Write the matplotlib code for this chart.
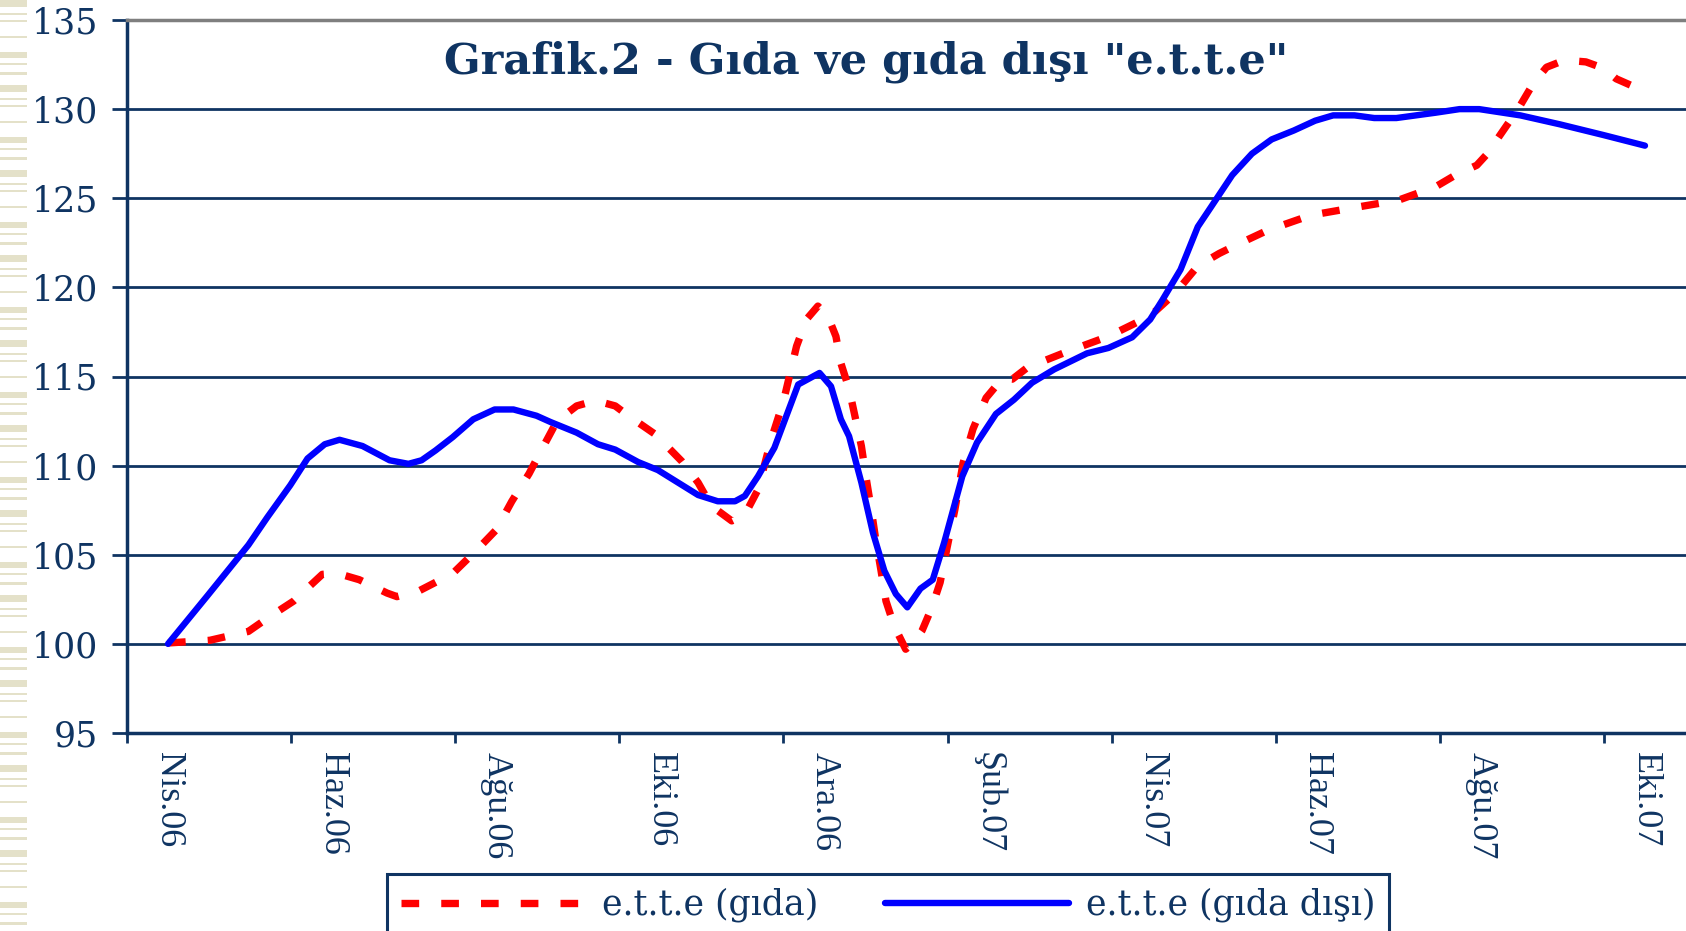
import matplotlib.pyplot as plt
from matplotlib.patches import Rectangle

# months counted from Nis.06 (= 0)
gida_x = [0.00, 0.51, 0.98, 1.23, 1.53, 1.88, 2.07, 2.33, 2.67, 2.79, 3.07, 3.47,
          3.77, 4.00, 4.19, 4.40, 4.56, 4.74, 4.98, 5.21, 5.45, 5.61, 5.94, 6.26,
          6.46, 6.62, 6.87, 7.03, 7.19, 7.35, 7.50, 7.66, 7.78, 7.92, 8.04, 8.14,
          8.20, 8.30, 8.38, 8.45, 8.51, 8.57, 8.63, 8.69, 8.75, 8.85, 8.99, 9.09,
          9.19, 9.31, 9.41, 9.49, 9.59, 9.69, 9.81, 9.97, 10.17, 10.29, 10.50, 10.66,
          10.96, 11.46, 11.97, 12.28, 12.55, 12.81, 13.03, 13.40, 13.93, 14.49, 15.00, 15.45,
          15.69, 15.95, 16.08, 16.22, 16.46, 16.64, 16.80, 17.02, 17.28, 17.49, 17.65, 17.97]
gida_y = [100.05, 100.2, 100.7, 101.5, 102.4, 103.9, 103.95, 103.6, 102.85, 102.65, 103.0, 103.95,
          105.3, 106.4, 108.0, 109.55, 110.95, 112.5, 113.35, 113.65, 113.35, 112.8, 111.75, 110.25,
          109.05, 107.75, 106.9, 107.25, 108.65, 111.45, 113.6, 116.7, 118.2, 118.95, 118.4, 117.25,
          115.75, 114.3, 112.6, 111.1, 109.25, 107.55, 105.7, 104.1, 102.4, 101.0, 99.7, 100.1,
          100.75, 102.05, 103.45, 105.3, 107.55, 110.15, 112.05, 113.8, 114.9, 114.85, 115.6, 115.85,
          116.4, 117.25, 118.4, 119.7, 121.2, 121.9, 122.4, 123.2, 124.05, 124.5, 124.9, 125.65,
          126.3, 126.85, 127.5, 128.45, 130.05, 131.45, 132.35, 132.75, 132.65, 132.3, 131.7, 131.05]

disi_x = [0.00, 0.48, 0.98, 1.21, 1.49, 1.70, 1.91, 2.09, 2.37, 2.70, 2.93, 3.09,
          3.26, 3.47, 3.72, 3.98, 4.21, 4.49, 4.66, 4.98, 5.24, 5.45, 5.73, 5.97,
          6.46, 6.70, 6.91, 7.03, 7.19, 7.39, 7.68, 7.94, 8.08, 8.20, 8.30, 8.45,
          8.59, 8.73, 8.87, 9.01, 9.17, 9.32, 9.46, 9.68, 9.86, 10.09, 10.31, 10.53,
          10.80, 11.20, 11.46, 11.75, 11.97, 12.12, 12.34, 12.55, 12.71, 12.97, 13.21, 13.45,
          13.72, 13.98, 14.20, 14.46, 14.70, 14.97, 15.21, 15.45, 15.74, 15.98, 16.48, 16.96,
          17.49, 18.00]
disi_y = [100.0, 102.7, 105.55, 107.1, 108.9, 110.4, 111.2, 111.45, 111.1, 110.3, 110.1, 110.3,
          110.85, 111.6, 112.6, 113.15, 113.15, 112.8, 112.45, 111.85, 111.2, 110.9, 110.2, 109.75,
          108.35, 108.0, 108.0, 108.3, 109.4, 111.0, 114.55, 115.2, 114.45, 112.6, 111.65, 109.05,
          106.25, 104.1, 102.8, 102.05, 103.1, 103.6, 105.7, 109.4, 111.3, 112.9, 113.7, 114.65,
          115.4, 116.3, 116.6, 117.2, 118.2, 119.3, 121.0, 123.4, 124.5, 126.3, 127.5, 128.3,
          128.8, 129.35, 129.65, 129.65, 129.5, 129.5, 129.65, 129.8, 130.0, 130.0, 129.65, 129.15,
          128.55, 127.95]

month_labels = ['Nis.06', 'Haz.06', 'Ağu.06', 'Eki.06', 'Ara.06', 'Şub.07',
                'Nis.07', 'Haz.07', 'Ağu.07', 'Eki.07']
label_pos = [0, 2, 4, 6, 8, 10, 12, 14, 16, 18]
y_ticks = [95, 100, 105, 110, 115, 120, 125, 130, 135]

navy = '#0F3462'
W, H = 1686, 931

fig = plt.figure(figsize=(W / 100, H / 100), dpi=100)

# beige stripes of the slide background on the left edge
stripes = [(0, 7), (13, 2), (20, 2), (36, 2), (52, 6), (63, 2), (72, 3)]
for start in range(0, H, 85):
    for off, h in stripes:
        fig.add_artist(Rectangle((0, 1 - (start + off + h) / H), 27 / W, h / H,
                                 transform=fig.transFigure, color='#E4E1C9', lw=0))

ax = fig.add_axes([127 / W, 1 - 733 / H, 1 - 127 / W, (733 - 20) / H])

ax.plot(gida_x, gida_y, color='#FF0000', lw=5.3, ls=(0, (2.4, 3.0)),
        label='e.t.t.e (gıda)', zorder=3)
ax.plot(disi_x, disi_y, color='#0000FF', lw=4.6, solid_joinstyle='round',
        solid_capstyle='round', label='e.t.t.e (gıda dışı)', zorder=4)

ax.set_xlim(-0.5, 18.5)
ax.set_ylim(95, 135)
ax.set_axisbelow(True)
ax.yaxis.grid(True, color=navy, lw=2)

ax.set_yticks(y_ticks)
ax.set_yticklabels([str(v) for v in y_ticks], family='DejaVu Serif', fontsize=25, color=navy)
ax.tick_params(axis='y', length=11, width=2, color=navy, pad=10)

ax.set_xticks(label_pos)
ax.set_xticklabels(month_labels, rotation=270, family='Liberation Serif', fontsize=26,
                   color=navy)
ax.set_xticks([p - 0.5 for p in label_pos], minor=True)
ax.tick_params(axis='x', which='major', length=0, pad=14)
ax.tick_params(axis='x', which='minor', length=7, width=2, color=navy)

ax.spines['right'].set_visible(False)
ax.spines['top'].set_color('#7F7F7F')
ax.spines['top'].set_linewidth(2.5)
ax.spines['left'].set_color(navy)
ax.spines['left'].set_linewidth(2.5)
ax.spines['bottom'].set_color(navy)
ax.spines['bottom'].set_linewidth(2.5)

fig.text(866 / W, 1 - 62 / H, 'Grafik.2 - Gıda ve gıda dışı "e.t.t.e"',
         ha='center', va='center', fontsize=31, fontweight='bold',
         family='DejaVu Serif', color=navy)

leg = fig.legend(loc='upper left', bbox_to_anchor=(387 / W, 1 - 874 / H), ncol=2,
                 prop={'family': 'DejaVu Serif', 'size': 25}, labelcolor=navy,
                 fancybox=False, edgecolor=navy, framealpha=1,
                 handlelength=5.3, handletextpad=0.5, columnspacing=1.9,
                 borderpad=0.4, borderaxespad=0)
leg.get_frame().set_linewidth(2.2)

fig.savefig('out.png', dpi=100)
